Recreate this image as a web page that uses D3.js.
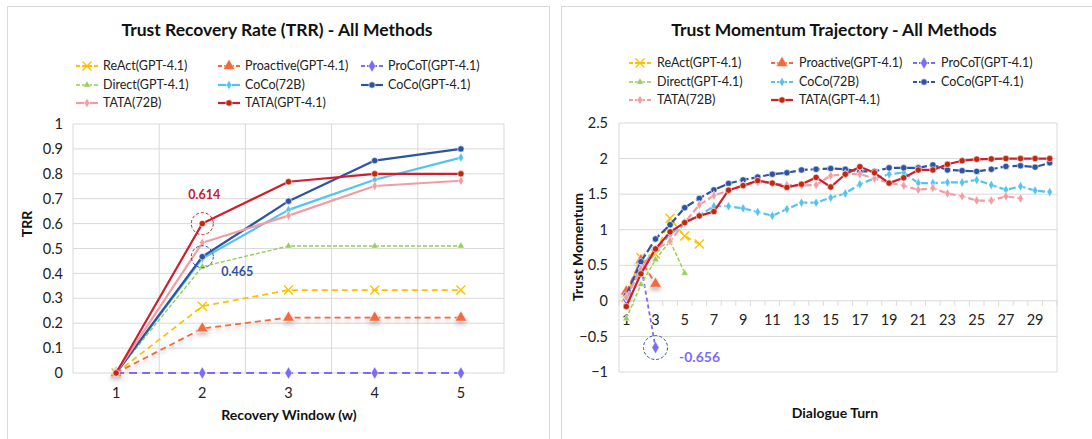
<!DOCTYPE html>
<meta charset="utf-8">
<head>
  <title>Trust Recovery / Trust Momentum</title>
  <script src="https://cdn.jsdelivr.net/npm/d3@7"></script>
  <style>
    body { margin: 0; background: #fff; font-family: Lato, "Open Sans", sans-serif; }
    text { font-family: Lato, "Open Sans", sans-serif; }
  </style>
</head>
<body>
<svg id="chart" width="1092" height="439"></svg>
<script>
// ---------- left chart: Trust Recovery Rate ----------
const windows = [1, 2, 3, 4, 5];
const trrReAct     = [0, 0.268, 0.333, 0.333, 0.333];
const trrProactive = [0, 0.179, 0.222, 0.222, 0.222];
const trrProCoT    = [0, 0, 0, 0, 0];
const trrDirect    = [0, 0.427, 0.51, 0.51, 0.51];
const trrCoCo72    = [0, 0.46, 0.655, 0.776, 0.865];
const trrCoCoGPT   = [0, 0.467, 0.69, 0.853, 0.9];
const trrTata72    = [0, 0.523, 0.632, 0.751, 0.772];
const trrTataGPT   = [0, 0.6, 0.768, 0.8, 0.8];
const trrTicks = [0, 0.1, 0.2, 0.3, 0.4, 0.5, 0.6, 0.7, 0.8, 0.9, 1];

// ---------- right chart: Trust Momentum ----------
const turns = [1, 2, 3, 4, 5, 6, 7, 8, 9, 10, 11, 12, 13, 14, 15,
               16, 17, 18, 19, 20, 21, 22, 23, 24, 25, 26, 27, 28, 29, 30];
const momReAct     = [0.05, 0.61, 0.66, 1.16, 0.91, 0.80];
const momProactive = [0.13, 0.57, 0.24];
const momProCoT    = [0.02, 0.5, -0.656];
const momDirect    = [-0.25, 0.23, 0.58, 0.84, 0.39];
const momCoCo72    = [0.05, 0.47, 0.72, 0.93, 1.10, 1.20, 1.33, 1.33, 1.30, 1.25, 1.195, 1.29, 1.38, 1.38, 1.45,
                      1.51, 1.64, 1.72, 1.78, 1.805, 1.655, 1.655, 1.665, 1.665, 1.70, 1.63, 1.56, 1.61, 1.55, 1.53];
const momCoCoGPT   = [0.08, 0.55, 0.87, 1.07, 1.31, 1.44, 1.56, 1.65, 1.70, 1.74, 1.78, 1.80, 1.84, 1.85, 1.86,
                      1.85, 1.82, 1.82, 1.87, 1.87, 1.87, 1.91, 1.84, 1.83, 1.82, 1.85, 1.89, 1.90, 1.88, 1.94];
const momTata72    = [0.05, 0.45, 0.72, 0.84, 1.10, 1.35, 1.48, 1.55, 1.62, 1.67, 1.65, 1.63, 1.62, 1.63, 1.76,
                      1.78, 1.78, 1.72, 1.66, 1.62, 1.56, 1.585, 1.51, 1.47, 1.41, 1.41, 1.47, 1.44];
const momTataGPT   = [-0.08, 0.38, 0.73, 0.97, 1.10, 1.195, 1.255, 1.555, 1.62, 1.69, 1.655, 1.595, 1.64, 1.735, 1.60,
                      1.78, 1.885, 1.80, 1.655, 1.73, 1.84, 1.84, 1.92, 1.97, 1.99, 1.995, 2.0, 2.0, 2.0, 2.0];
const momTicks = [-1, -0.5, 0, 0.5, 1, 1.5, 2, 2.5];

const methodNames = ["ReAct(GPT-4.1)", "Proactive(GPT-4.1)", "ProCoT(GPT-4.1)", "Direct(GPT-4.1)",
                     "CoCo(72B)", "CoCo(GPT-4.1)", "TATA(72B)", "TATA(GPT-4.1)"];

// look of each method (same order as methodNames)
const styles = [
  {color: "#FFC000", marker: "x",       size: 9,  dashL: "6,4", dashR: "6,4", width: 1.8},
  {color: "#F4693C", marker: "tri",     size: 60, dashL: "6,4", dashR: "6,4", width: 1.8, shadow: true},
  {color: "#7B6CF6", marker: "diamond", size: 45, dashL: "8,5", dashR: "4,3", width: 1.8},
  {color: "#92D050", marker: "tri",     size: 22, dashL: "4,2", dashR: "4,2", width: 1.4},
  {color: "#55C3F0", marker: "diamond", size: 26, dashL: null,  dashR: "7,3", width: 2.2},
  {color: "#2E54A1", marker: "circle",  size: 3.2, dashL: null, dashR: "9,3", width: 2.2},
  {color: "#F29CA3", marker: "diamond", size: 26, dashL: null,  dashR: "7,3", width: 2.2},
  {color: "#CF1F2E", marker: "circle",  size: 3.2, dashL: null, dashR: null,  width: 2.2, markerColor: "#C0290E"}
];

const trrData = [trrReAct, trrProactive, trrProCoT, trrDirect, trrCoCo72, trrCoCoGPT, trrTata72, trrTataGPT];
const momData = [momReAct, momProactive, momProCoT, momDirect, momCoCo72, momCoCoGPT, momTata72, momTataGPT];

const svg = d3.select("#chart");
const grid = "#D9D9D9";

// shadow used by the Proactive series
const defs = svg.append("defs");
const f = defs.append("filter").attr("id", "shadow").attr("x", "-50%").attr("y", "-50%")
  .attr("width", "200%").attr("height", "200%");
f.append("feDropShadow").attr("dx", 0).attr("dy", 3).attr("stdDeviation", 2)
  .attr("flood-color", "#888").attr("flood-opacity", 0.55);

// panel frames
svg.append("rect").attr("x", 7.5).attr("y", 6.5).attr("width", 542).attr("height", 440)
  .attr("fill", "none").attr("stroke", grid);
svg.append("rect").attr("x", 561.5).attr("y", 6.5).attr("width", 540).attr("height", 440)
  .attr("fill", "none").attr("stroke", grid);

function drawMarker(g, st, cx, cy) {
  const col = st.markerColor || st.color;
  if (st.marker === "x") {
    const s = st.size / 2;
    g.append("path").attr("d", `M${cx - s},${cy - s}L${cx + s},${cy + s}M${cx - s},${cy + s}L${cx + s},${cy - s}`)
      .attr("stroke", col).attr("stroke-width", 1.4).attr("fill", "none");
  } else if (st.marker === "circle") {
    g.append("circle").attr("cx", cx).attr("cy", cy).attr("r", st.size)
      .attr("fill", col).attr("stroke", "#fff").attr("stroke-width", 0.6);
  } else {
    const type = st.marker === "tri" ? d3.symbolTriangle : d3.symbolDiamond;
    g.append("path").attr("d", d3.symbol().type(type).size(st.size)())
      .attr("transform", `translate(${cx},${cy})`)
      .attr("fill", col).attr("stroke", "#fff").attr("stroke-width", 0.5);
  }
}

function drawSeries(g, vals, cats, x, y, st, dash) {
  const pts = vals.map((v, i) => [x(cats[i]) + x.bandwidth() / 2, y(v)]);
  const sg = g.append("g");
  if (st.shadow) sg.attr("filter", "url(#shadow)");
  sg.append("path").attr("d", d3.line()(pts)).attr("fill", "none")
    .attr("stroke", st.color).attr("stroke-width", st.width)
    .attr("stroke-dasharray", dash).attr("stroke-linejoin", "round");
  pts.forEach(p => drawMarker(sg, st, p[0], p[1]));
}

function drawLegend(g, cols, rows, textOff, useRight) {
  methodNames.forEach((name, i) => {
    const st = styles[i];
    const cx = cols[i % 3], cy = rows[Math.floor(i / 3)];
    const dash = useRight ? st.dashR : st.dashL;
    const lg = g.append("g");
    lg.append("line").attr("x1", cx).attr("x2", cx + 22).attr("y1", cy).attr("y2", cy)
      .attr("stroke", st.color).attr("stroke-width", st.width).attr("stroke-dasharray", dash ? "4,2" : null);
    drawMarker(lg, st, cx + 11, cy);
    g.append("text").attr("x", cx + textOff).attr("y", cy).attr("dy", "0.35em")
      .attr("font-size", 12.5).attr("fill", "#222").text(name);
  });
}

// ================= LEFT CHART =================
{
  const g = svg.append("g");
  const x = d3.scaleBand().domain(windows).range([73, 504]);
  const y = d3.scaleLinear().domain([0, 1]).range([373, 124]);

  g.selectAll(".hg").data(trrTicks).join("line")
    .attr("x1", 73).attr("x2", 504).attr("y1", d => y(d)).attr("y2", d => y(d))
    .attr("stroke", grid);
  g.selectAll(".vg").data(windows.map(w => x(w)).concat([504])).join("line")
    .attr("x1", d => d).attr("x2", d => d).attr("y1", y(1)).attr("y2", y(0))
    .attr("stroke", grid);

  const ya = g.append("g").attr("transform", "translate(66,0)")
    .call(d3.axisLeft(y).tickValues(trrTicks).tickSize(0).tickFormat(d3.format("~g")));
  ya.select(".domain").remove();
  ya.selectAll("text").attr("font-size", 14.5).attr("fill", "#222").attr("font-family", "Lato");

  const xa = g.append("g").attr("transform", "translate(0,385)")
    .call(d3.axisBottom(x).tickSize(0));
  xa.select(".domain").remove();
  xa.selectAll("text").attr("font-size", 14.5).attr("fill", "#222").attr("font-family", "Lato");

  trrData.forEach((vals, i) => drawSeries(g, vals, windows, x, y, styles[i], styles[i].dashL));

  // highlight circles at window 2
  const cx = x(2) + x.bandwidth() / 2;
  g.append("circle").attr("cx", cx).attr("cy", y(trrTataGPT[1])).attr("r", 11)
    .attr("fill", "none").attr("stroke", "#C0202E").attr("stroke-dasharray", "3,2");
  g.append("circle").attr("cx", cx).attr("cy", y(trrCoCoGPT[1])).attr("r", 11)
    .attr("fill", "none").attr("stroke", "#2E54A1").attr("stroke-dasharray", "3,2");
  g.append("text").attr("x", cx + 2).attr("y", y(trrTataGPT[1]) - 25).attr("text-anchor", "middle")
    .attr("font-size", 12.5).attr("font-weight", "bold").attr("fill", "#C0202E").text("0.614");
  g.append("text").attr("x", cx + 35).attr("y", y(trrCoCoGPT[1]) + 19).attr("text-anchor", "middle")
    .attr("font-size", 12.5).attr("font-weight", "bold").attr("fill", "#2E54A1").text("0.465");

  g.append("text").attr("x", 277).attr("y", 36).attr("text-anchor", "middle")
    .attr("font-size", 17.5).attr("font-weight", "bold").attr("fill", "#111")
    .text("Trust Recovery Rate (TRR) - All Methods");
  g.append("text").attr("transform", "translate(32,224) rotate(-90)").attr("text-anchor", "middle")
    .attr("font-size", 14).attr("font-weight", "bold").attr("fill", "#111").text("TRR");
  g.append("text").attr("x", 289).attr("y", 420).attr("text-anchor", "middle")
    .attr("font-size", 14).attr("font-weight", "bold").attr("fill", "#111").text("Recovery Window (w)");

  drawLegend(g, [76, 218, 361], [66, 85, 103], 27, false);
}

// ================= RIGHT CHART =================
{
  const g = svg.append("g");
  const x = d3.scaleBand().domain(turns).range([619, 1057]);
  const y = d3.scaleLinear().domain([-1, 2.5]).range([372, 123]);

  g.selectAll(".hg").data(momTicks).join("line")
    .attr("x1", 619).attr("x2", 1057).attr("y1", d => y(d)).attr("y2", d => y(d))
    .attr("stroke", grid);
  g.selectAll(".vb").data([619, 1057]).join("line")
    .attr("x1", d => d).attr("x2", d => d).attr("y1", y(2.5)).attr("y2", y(-1))
    .attr("stroke", grid);

  const ya = g.append("g").attr("transform", "translate(611,0)")
    .call(d3.axisLeft(y).tickValues(momTicks).tickSize(0).tickFormat(d3.format("~g")));
  ya.select(".domain").remove();
  ya.selectAll("text").attr("font-size", 14.5).attr("fill", "#222").attr("font-family", "Lato");

  // category ticks on the zero line
  g.selectAll(".tk").data(turns.map(t => x(t)).concat([1057])).join("line")
    .attr("x1", d => d).attr("x2", d => d).attr("y1", y(0)).attr("y2", y(0) + 5)
    .attr("stroke", grid);
  const xa = g.append("g").attr("transform", `translate(0,${y(0) + 11})`)
    .call(d3.axisBottom(x).tickSize(0).tickFormat(d => d % 2 === 1 ? d : ""));
  xa.select(".domain").remove();
  xa.selectAll("text").attr("font-size", 14.5).attr("fill", "#222").attr("font-family", "Lato");

  momData.forEach((vals, i) => drawSeries(g, vals, turns, x, y, styles[i], styles[i].dashR));

  const px = x(3) + x.bandwidth() / 2;
  g.append("circle").attr("cx", px).attr("cy", y(momProCoT[2])).attr("r", 12)
    .attr("fill", "none").attr("stroke", "#2E54A1").attr("stroke-dasharray", "3,2");
  g.append("text").attr("x", px + 44).attr("y", y(momProCoT[2]) + 14).attr("text-anchor", "middle")
    .attr("font-size", 14).attr("font-weight", "bold").attr("fill", "#7B6CF6").text("-0.656");

  g.append("text").attr("x", 834).attr("y", 36).attr("text-anchor", "middle")
    .attr("font-size", 17.5).attr("font-weight", "bold").attr("fill", "#111")
    .text("Trust Momentum Trajectory - All Methods");
  g.append("text").attr("transform", "translate(583,247) rotate(-90)").attr("text-anchor", "middle")
    .attr("font-size", 14).attr("font-weight", "bold").attr("fill", "#111").text("Trust Momentum");
  g.append("text").attr("x", 835).attr("y", 418).attr("text-anchor", "middle")
    .attr("font-size", 14).attr("font-weight", "bold").attr("fill", "#111").text("Dialogue Turn");

  drawLegend(g, [629, 771, 913], [63, 82, 100], 28, true);
}
</script>
</body>
